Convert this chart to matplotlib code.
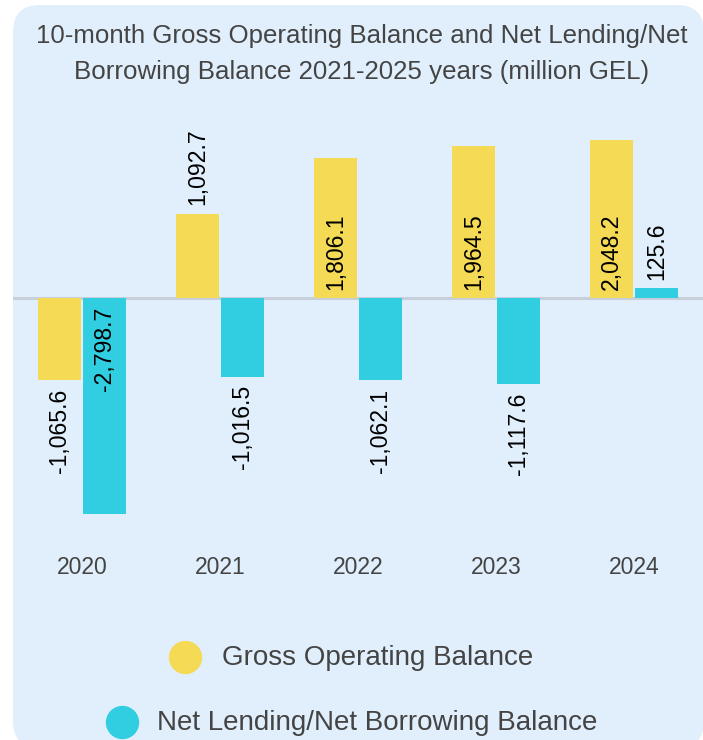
#!/usr/bin/env python3

import matplotlib.pyplot as plt
from matplotlib.patches import FancyBboxPatch
from matplotlib.lines import Line2D

plt.rcParams['font.family'] = ['Liberation Sans', 'DejaVu Sans']

years = ['2020', '2021', '2022', '2023', '2024']
gross_operating = [-1065.6, 1092.7, 1806.1, 1964.5, 2048.2]
net_lending = [-2798.7, -1016.5, -1062.1, -1117.6, 125.6]

yellow = '#f4da55'
cyan = '#31cde0'
panel = '#e1effc'
text_grey = '#444444'

W, H = 703, 740
fig = plt.figure(figsize=(W / 100, H / 100), dpi=100)
fig.patch.set_facecolor('white')

# rounded background panel (inches)
bg = FancyBboxPatch((0.13, -0.08), 6.91, 7.43,
                    boxstyle='round,pad=0,rounding_size=0.27',
                    transform=fig.dpi_scale_trans, facecolor=panel,
                    edgecolor='none', zorder=-5)
fig.patches.append(bg)

# axes spans x 13..703 px, y 110..530 px
ax = fig.add_axes([13 / W, 1 - 530 / H, 690 / W, 420 / H])
ax.set_facecolor('none')
ax.set_zorder(2)

x = list(range(len(years)))
width = 0.31
off = 0.163
ax.bar([i - off for i in x], gross_operating, width, color=yellow, zorder=3)
ax.bar([i + off for i in x], net_lending, width, color=cyan, zorder=3)
ax.axhline(0, color='#c6cfda', linewidth=2.2, zorder=2)

ax.set_xlim(-0.5, len(years) - 0.5)
ax.set_ylim(-3001, 2432)


def put_label(xpos, v):
    s = '{:,.1f}'.format(v)
    inside = abs(v) > 1500
    pad = 6
    anchor = 0 if inside else v
    if v >= 0:
        ax.annotate(s, (xpos, anchor), xytext=(0, pad), textcoords='offset points',
                    rotation=90, ha='center', va='bottom', fontsize=16.6, zorder=4)
    else:
        ax.annotate(s, (xpos, anchor), xytext=(0, -pad), textcoords='offset points',
                    rotation=90, ha='center', va='top', fontsize=16.6, zorder=4)


for i in x:
    put_label(i - off, gross_operating[i])
    put_label(i + off, net_lending[i])

ax.set_xticks(x)
ax.set_xticklabels(years, fontsize=16.5, color=text_grey)
ax.tick_params(axis='x', length=0, pad=19)
ax.set_yticks([])
for sp in ax.spines.values():
    sp.set_visible(False)

fig.text(362 / W, 1 - 54 / H,
         '10-month Gross Operating Balance and Net Lending/Net\n'
         'Borrowing Balance 2021-2025 years (million GEL)',
         ha='center', va='center', fontsize=18.6, color=text_grey,
         linespacing=1.65)

# legend rows
fig.add_artist(Line2D([185 / W], [1 - 657 / H], marker='o', markersize=23,
                      color=yellow, linestyle='none', transform=fig.transFigure))
fig.text(222 / W, 1 - 658 / H, 'Gross Operating Balance', ha='left',
         va='center', fontsize=20, color=text_grey)
fig.add_artist(Line2D([122 / W], [1 - 722 / H], marker='o', markersize=23,
                      color=cyan, linestyle='none', transform=fig.transFigure))
fig.text(157 / W, 1 - 723 / H, 'Net Lending/Net Borrowing Balance', ha='left',
         va='center', fontsize=20, color=text_grey)

fig.savefig('out.png', dpi=100)
